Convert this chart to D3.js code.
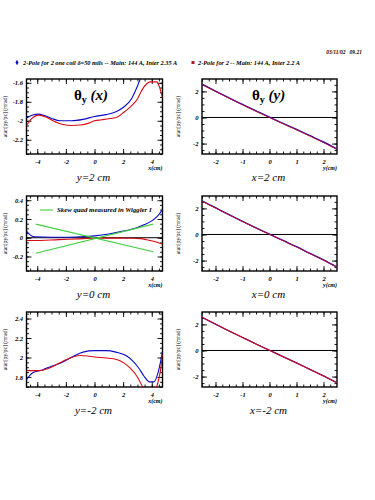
<!doctype html>
<html lang="en">
<head>
  <meta charset="utf-8">
  <title>theta_y maps</title>
  <style>
    body { margin: 0; background: #fff; }
    text { font-family: "Liberation Serif", serif; }
  </style>
</head>
<body>
<svg id="mysvg"></svg>
<script src="https://d3js.org/d3.v7.min.js"></script>
<script>
// ---- data ----
var legendBlue = "2-Pole for 2 one coil \u03b4=50 mils -- Main: 144 A, Inter 2.35 A";
var legendRed = "2-Pole for 2 -- Main: 144 A, Inter 2.2 A";
var stamp = "03/11/02\u00a0\u00a0 09.21";

// left column: theta_y vs x (cm)
var xTicksL = [-4, -2, 0, 2, 4];
var p1Ticks = [-2.2, -2, -1.8, -1.6];
var p1BlueX = [-4.75, -4.3, -3.95, -3.5, -3.0, -2.4, -1.6, -0.8, 0.0, 0.8, 1.5, 2.0, 2.6, 2.9, 3.2, 3.45];
var p1BlueY = [-1.97, -1.94, -1.93, -1.945, -1.975, -2.0, -2.0, -1.985, -1.955, -1.935, -1.905, -1.86, -1.765, -1.67, -1.56, -1.48];
var p1RedX = [-4.75, -4.4, -3.9, -3.4, -2.9, -2.2, -1.6, -1.0, -0.4, 0.0, 0.5, 1.1, 1.6, 2.1, 2.6, 3.0, 3.3, 3.65, 3.9, 4.35, 4.55, 4.75];
var p1RedY = [-2.05, -1.98, -1.94, -1.96, -2.0, -2.04, -2.05, -2.045, -2.025, -2.0, -1.99, -1.976, -1.96, -1.905, -1.84, -1.77, -1.68, -1.61, -1.59, -1.59, -1.65, -1.76];

var p3Ticks = [-0.2, 0, 0.2, 0.4];
var p3BlueX = [-4.75, -4.5, -4.2, -3.0, -2.0, -1.0, 0.0, 1.0, 2.0, 3.0, 3.5, 4.0, 4.4, 4.75];
var p3BlueY = [0.07, 0.03, 0.01, 0.005, 0.005, 0.01, 0.02, 0.04, 0.07, 0.11, 0.14, 0.18, 0.23, 0.3];
var p3RedX = [-4.75, -4.3, -2.5, -1.2, 0.0, 1.5, 2.7, 3.2, 3.6, 4.2, 4.75];
var p3RedY = [-0.03, -0.03, -0.02, -0.012, -0.005, -0.004, -0.005, -0.01, -0.02, -0.04, -0.07];
var skewX = [-4.1, 4.1];
var skewA = [0.145, -0.15];
var skewB = [-0.165, 0.145];
var skewLabel = "Skew quad measured in Wiggler I";

var p4Ticks = [1.8, 2, 2.2, 2.4];
var p4BlueX = [-4.75, -4.5, -4.28, -3.6, -3.0, -2.4, -1.5, -0.8, 0.0, 0.8, 1.5, 2.2, 2.7, 3.1, 3.45, 3.85, 4.15, 4.45, 4.75];
var p4BlueY = [1.77, 1.82, 1.845, 1.875, 1.91, 1.94, 2.01, 2.055, 2.07, 2.07, 2.055, 2.02, 1.96, 1.89, 1.81, 1.75, 1.75, 1.85, 2.06];
var p4RedX = [-4.75, -3.9, -3.1, -2.5, -1.95, -1.0, -0.5, 0.0, 0.8, 1.55, 2.1, 2.5, 2.95, 3.35, 3.6, 3.9, 4.35, 4.6, 4.75];
var p4RedY = [1.865, 1.865, 1.895, 1.94, 1.98, 2.02, 2.015, 2.005, 1.995, 1.98, 1.94, 1.89, 1.81, 1.70, 1.62, 1.55, 1.70, 1.86, 2.03];

// right column: theta_y vs y (cm)
var xTicksR = [-2, -1, 0, 1, 2];
var yTicksR = [-2, 0, 2];
var rY = [-2.5, -2, -1.5, -1, -0.5, 0, 0.5, 1, 1.5, 2, 2.5];
var p2Blue = [2.55, 2.02, 1.5, 1.0, 0.5, 0.02, -0.45, -0.92, -1.4, -1.88, -2.42];
var p2Red = [2.52, 2.0, 1.47, 0.97, 0.47, 0.0, -0.48, -0.95, -1.43, -1.92, -2.45];
var p5Blue = [2.58, 2.05, 1.52, 1.01, 0.51, 0.03, -0.46, -0.94, -1.45, -1.95, -2.5];
var p5Red = [2.55, 2.02, 1.5, 0.99, 0.49, 0.01, -0.48, -0.96, -1.47, -1.97, -2.52];
var p6Blue = [2.55, 2.02, 1.5, 1.0, 0.5, 0.02, -0.47, -0.95, -1.45, -1.95, -2.47];
var p6Red = [2.55, 2.02, 1.5, 1.0, 0.5, 0.01, -0.48, -0.96, -1.46, -1.96, -2.48];

var blue = "#0a0ac8", red = "#d80a14", green = "#3fd03f";

var width = 375, height = 500;
var svg = d3.select("#mysvg").attr("width", width).attr("height", height);

// small italic-bold text helper (style wins over the axis' own attributes)
var lab = function(sel, size, weight, italic) {
  return sel.style("font-size", size + "px").style("font-weight", weight || "bold")
    .style("font-style", italic === false ? "normal" : "italic")
    .style("font-family", "'Liberation Serif', serif");
};

// header
lab(svg.append("text").attr("x", 362).attr("y", 54).attr("text-anchor", "end"), 5.5).text(stamp);
svg.append("path").attr("d", d3.symbol().type(d3.symbolDiamond).size(8)())
  .attr("transform", "translate(17,62.5)").attr("fill", blue);
lab(svg.append("text").attr("x", 23).attr("y", 64.5), 6.3).text(legendBlue);
svg.append("rect").attr("x", 191.5).attr("y", 61).attr("width", 3).attr("height", 3).attr("fill", "#a02030");
lab(svg.append("text").attr("x", 198).attr("y", 64.5), 6.3).text(legendRed);

var zip = function(xs, ys) { return xs.map(function(d, i) { return [d, ys[i]]; }); };

var clipId = 0;
var drawPanel = function(o) {
  var x = d3.scaleLinear().domain(o.xd).range([o.left, o.left + o.w]);
  var y = d3.scaleLinear().domain(o.yd).range([o.top + o.h, o.top]);
  var g = svg.append("g");
  var bottom = o.top + o.h;

  // ticks on four sides, pointing inward
  var xMinor = d3.range(Math.ceil(o.xd[0] / o.xm) * o.xm, o.xd[1], o.xm);
  var yMinor = d3.range(Math.ceil(o.yd[0] / o.ym) * o.ym, o.yd[1], o.ym);
  var sides = [
    [function() { return d3.axisBottom(x); }, "translate(0," + bottom + ")", o.xt, xMinor, true, 5.5],
    [function() { return d3.axisTop(x); }, "translate(0," + o.top + ")", o.xt, xMinor, false, 3],
    [function() { return d3.axisLeft(y); }, "translate(" + o.left + ",0)", o.yt, yMinor, true, 3.5],
    [function() { return d3.axisRight(y); }, "translate(" + (o.left + o.w) + ",0)", o.yt, yMinor, false, 3]
  ];
  sides.forEach(function(a) {
    var minor = g.append("g").attr("transform", a[1])
      .call(a[0]().tickValues(a[3]).tickSize(-2.5).tickFormat(""));
    minor.select(".domain").remove();
    var major = g.append("g").attr("transform", a[1])
      .call(a[0]().tickValues(a[2]).tickSize(-5).tickPadding(a[5])
        .tickFormat(a[4] ? function(d) { return String(d); } : ""));
    major.select(".domain").remove();
    lab(major.selectAll("text"), 6.5);
  });
  g.selectAll(".tick line").attr("stroke", "#000").attr("stroke-width", 0.9);

  // plot lines
  var id = "clip" + (clipId++);
  svg.append("clipPath").attr("id", id).append("rect")
    .attr("x", o.left).attr("y", o.top).attr("width", o.w).attr("height", o.h);
  var plot = svg.append("g").attr("clip-path", "url(#" + id + ")");
  var line = d3.line().x(function(d) { return x(d[0]); }).y(function(d) { return y(d[1]); });
  if (o.zero) {
    plot.append("path").datum([[o.xd[0], 0], [o.xd[1], 0]]).attr("d", line.curve(d3.curveLinear))
      .attr("stroke", "#000").attr("stroke-width", 1).attr("fill", "none");
  }
  (o.series || []).forEach(function(s) {
    plot.append("path").datum(s.data).attr("d", line.curve(s.curve || d3.curveMonotoneX))
      .attr("stroke", s.color).attr("stroke-width", s.sw || 1.1).attr("fill", "none");
  });

  // frame
  g.append("rect").attr("x", o.left).attr("y", o.top).attr("width", o.w).attr("height", o.h)
    .attr("fill", "none").attr("stroke", "#000").attr("stroke-width", 1.4);

  // axis labels and titles
  lab(g.append("text").attr("x", o.left + o.w).attr("y", bottom + 16).attr("text-anchor", "end"), 6)
    .text(o.xlab);
  lab(g.append("text")
    .attr("transform", "translate(" + o.ylabX + "," + (o.top + o.h / 2) + ") rotate(-90)")
    .attr("text-anchor", "middle"), 5.5, "normal", false)
    .text("atan[py/pz] (mrad)");
  lab(g.append("text").attr("x", o.left + o.w / 2 - 1).attr("y", bottom + 27)
    .attr("text-anchor", "middle"), 11, "normal")
    .text(o.title);
  if (o.big) {
    var t = lab(g.append("text").attr("x", o.big[0]).attr("y", o.big[1]), 15, "bold", false);
    t.append("tspan").text("\u03b8");
    t.append("tspan").style("font-size", "10px").attr("dy", 3).text("y");
    t.append("tspan").attr("dy", -3).style("font-style", "italic").text(" (" + o.big[2] + ")");
  }
  return { x: x, y: y, g: g };
};

var LX = 26.5, RX = 202, PW = 136, PH = 75;
var rows = [79, 196, 312];
var dL = [-4.75, 4.75], dR = [-2.5, 2.5], dRy = [-2.8, 2.95];

drawPanel({ left: LX, top: rows[0], w: PW, h: PH, xd: dL, yd: [-2.35, -1.56],
  xt: xTicksL, yt: p1Ticks, xm: 0.5, ym: 0.05, xlab: "x(cm)", ylabX: 7, title: "y=2 cm",
  big: [74, 100, "x"],
  series: [{ data: zip(p1BlueX, p1BlueY), color: blue }, { data: zip(p1RedX, p1RedY), color: red }] });

drawPanel({ left: RX, top: rows[0], w: PW - 1, h: PH, xd: dR, yd: dRy,
  xt: xTicksR, yt: yTicksR, xm: 0.25, ym: 0.5, xlab: "y(cm)", ylabX: 180, title: "x=2 cm",
  big: [252, 100, "y"], zero: true,
  series: [{ data: zip(rY, p2Blue), color: blue, sw: 1.4 }, { data: zip(rY, p2Red), color: red, sw: 0.9 }] });

drawPanel({ left: LX, top: rows[1], w: PW, h: PH, xd: dL, yd: [-0.355, 0.445],
  xt: xTicksL, yt: p3Ticks, xm: 0.5, ym: 0.05, xlab: "x(cm)", ylabX: 7, title: "y=0 cm", zero: true,
  series: [{ data: zip(p3BlueX, p3BlueY), color: blue }, { data: zip(p3RedX, p3RedY), color: red },
    { data: zip(skewX, skewA), color: green, curve: d3.curveLinear },
    { data: zip(skewX, skewB), color: green, curve: d3.curveLinear }] });
svg.append("line").attr("x1", 40).attr("x2", 53).attr("y1", 210).attr("y2", 210)
  .attr("stroke", green).attr("stroke-width", 1.1);
lab(svg.append("text").attr("x", 57).attr("y", 212), 6.8).text(skewLabel);

drawPanel({ left: RX, top: rows[1], w: PW - 1, h: PH, xd: dR, yd: dRy,
  xt: xTicksR, yt: yTicksR, xm: 0.25, ym: 0.5, xlab: "y(cm)", ylabX: 180, title: "x=0 cm", zero: true,
  series: [{ data: zip(rY, p5Blue), color: blue, sw: 1.4 }, { data: zip(rY, p5Red), color: red, sw: 0.9 }] });

drawPanel({ left: LX, top: rows[2], w: PW, h: PH, xd: dL, yd: [1.697, 2.467],
  xt: xTicksL, yt: p4Ticks, xm: 0.5, ym: 0.05, xlab: "x(cm)", ylabX: 7, title: "y=-2 cm",
  series: [{ data: zip(p4BlueX, p4BlueY), color: blue }, { data: zip(p4RedX, p4RedY), color: red }] });

drawPanel({ left: RX, top: rows[2], w: PW - 1, h: PH, xd: dR, yd: dRy,
  xt: xTicksR, yt: yTicksR, xm: 0.25, ym: 0.5, xlab: "y(cm)", ylabX: 180, title: "x=-2 cm", zero: true,
  series: [{ data: zip(rY, p6Blue), color: blue, sw: 1.2 }, { data: zip(rY, p6Red), color: red, sw: 1.1 }] });
</script>
</body>
</html>
